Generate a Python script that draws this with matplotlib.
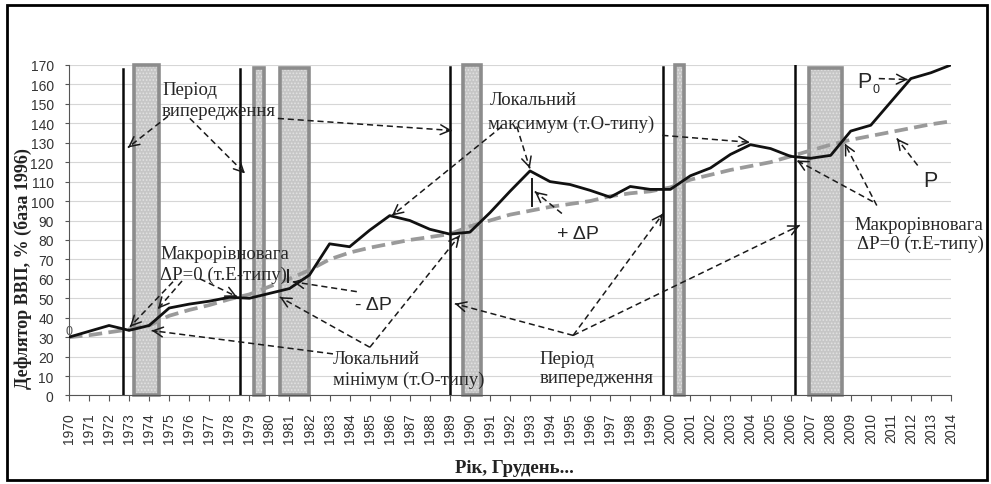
# -*- coding:utf-8 -*-
import matplotlib
matplotlib.use('Agg')
import matplotlib.pyplot as plt
from matplotlib.patches import Rectangle

plt.rcParams['font.family'] = ['Liberation Sans', 'DejaVu Sans']
plt.rcParams['hatch.linewidth'] = 0.8
serif = ['Liberation Serif', 'DejaVu Serif']

# data
years = list(range(1970, 2015))
p0 = [30, 33, 36, 33.5, 36, 45, 47, 48.5, 50.5, 50, 52.5, 55, 62, 78, 76.5,
      85, 92.5, 90, 85.5, 83, 84, 94, 105, 115.5, 110, 108.5, 105.5, 102, 107.5, 106,
      106, 113, 117, 124, 129, 127, 123, 122, 123.5, 136, 139, 151, 163, 166, 170]
p_trend = [30, 31, 32.5, 34, 36, 41, 44, 46.5, 49.5, 52, 56, 60, 64.5, 70, 73.5,
           76, 78, 80, 81.5, 83, 87, 90, 93, 95, 97, 98.5, 100, 102.5, 104, 105,
           107, 111, 113.5, 116, 118, 120, 123, 126, 129, 131.5, 133.5, 135.5, 137.5, 139.5, 141]

band_start = [1973.22, 1979.25, 1980.52, 1989.68, 2000.22, 2006.91]
band_end = [1974.49, 1979.73, 1981.97, 1990.57, 2000.70, 2008.55]
band_top = [170, 168.5, 168.5, 170, 170, 168.5]

vline_x = [1972.71, 1978.53, 1989.0, 1999.65, 2006.21]
vline_top = [168, 168, 169, 169, 170]

# annotation arrows: tail -> head
arrows = [
    (1974.94, 143.6, 1972.94, 127.5),
    (1976.03, 142.5, 1978.78, 114.2),
    (1980.42, 142.5, 1989.10, 136.3),
    (1992.34, 138.4, 1992.99, 116.8),
    (1991.6, 138.4, 1986.11, 92.5),
    (1999.6, 133.8, 2003.97, 130.2),
    (1994.59, 93.6, 1993.24, 104.9),
    (1984.36, 53.4, 1981.17, 58.5),
    (1975.19, 58.5, 1973.04, 35.3),
    (1975.64, 58.9, 1974.44, 44.6),
    (1976.53, 60.0, 1978.38, 50.8),
    (1983.17, 21.4, 1974.12, 33.4),
    (1985.01, 24.8, 1980.52, 50.6),
    (1985.01, 24.8, 1989.5, 82.4),
    (1995.15, 30.9, 1989.25, 47.2),
    (1995.15, 30.9, 1999.64, 93.6),
    (1995.15, 30.9, 2006.46, 87.5),
    (2010.4, 163.0, 2011.85, 162.5),
    (2012.34, 118.3, 2011.3, 132.2),
    (2010.3, 97.7, 2008.7, 129.6),
    (2010.1, 99.7, 2006.31, 120.9),
]
# short solid bars marking the gap
gap_marks = [(1993.09, 97.5, 111.5), (1980.94, 58.3, 64.3)]

fig = plt.figure(figsize=(9.91, 4.85), dpi=100)
ax = fig.add_axes([0.0696, 0.1825, 0.89, 0.6815])

widths = [e - s for s, e in zip(band_start, band_end)]
ax.bar(band_start, band_top, width=widths, align='edge', color='#c6c6c6',
       linewidth=0, zorder=2, clip_on=False)
ax.bar(band_start, band_top, width=widths, align='edge', fill=False, hatch='.....',
       edgecolor='#e2e2e2', linewidth=0, zorder=2, clip_on=False)
ax.bar(band_start, band_top, width=widths, align='edge', fill=False,
       edgecolor='#8c8c8c', linewidth=2.6, zorder=2, clip_on=False)

for x, top in zip(vline_x, vline_top):
    ax.plot([x, x], [0, top], color='#0a0a0a', lw=1.8, zorder=4)

ax.plot(years, p_trend, color='#9a9a9a', lw=2.7, dashes=(3.6, 1.7), zorder=3)
ax.plot(years, p0, color='#111111', lw=2.0, zorder=4, solid_joinstyle='round')

for x0, y0, x1, y1 in arrows:
    ax.plot([x0, x1], [y0, y1], color='#1a1a1a', lw=1.1, ls=(0, (4, 2.5)), zorder=6)
    ax.annotate('', xy=(x1, y1), xytext=(x1 - (x1 - x0) * 0.03, y1 - (y1 - y0) * 0.03),
                arrowprops=dict(arrowstyle='->,head_length=0.7,head_width=0.35',
                                color='#1a1a1a', lw=1.1, shrinkA=0, shrinkB=0), zorder=6)
for x, ya, yb in gap_marks:
    ax.plot([x, x], [ya, yb], color='#1a1a1a', lw=1.4, zorder=6)

tc = '#262626'
ts = 13.5
ax.text(1974.64, 157.5, 'Період', family=serif, fontsize=ts, color=tc, va='center', zorder=7)
ax.text(1974.64, 146.6, 'випередження', family=serif, fontsize=ts, color=tc, va='center', zorder=7)
ax.text(1974.54, 72.9, 'Макрорівновага', family=serif, fontsize=ts, color=tc, va='center', zorder=7)
ax.text(1974.54, 62.1, 'ΔP=0 (т.Е-типу)', family=serif, fontsize=ts, color=tc, va='center', zorder=7)
ax.text(1991.0, 152.3, 'Локальний', family=serif, fontsize=ts, color=tc, va='center', zorder=7)
ax.text(1990.9, 140.0, 'максимум (т.О-типу)', family=serif, fontsize=ts, color=tc, va='center', zorder=7)
ax.text(1983.17, 18.8, 'Локальний', family=serif, fontsize=ts, color=tc, va='center', zorder=7)
ax.text(1983.17, 8.5, 'мінімум (т.О-типу)', family=serif, fontsize=ts, color=tc, va='center', zorder=7)
ax.text(1993.49, 18.8, 'Період', family=serif, fontsize=ts, color=tc, va='center', zorder=7)
ax.text(1993.49, 9.5, 'випередження', family=serif, fontsize=ts, color=tc, va='center', zorder=7)
ax.text(2009.2, 87.9, 'Макрорівновага', family=serif, fontsize=ts, color=tc, va='center', zorder=7, clip_on=False)
ax.text(2009.3, 78.1, 'ΔP=0 (т.Е-типу)', family=serif, fontsize=ts, color=tc, va='center', zorder=7, clip_on=False)

ax.text(1994.34, 83.2, '+ ΔP', fontsize=14, color=tc, va='center', zorder=7)
ax.text(1984.26, 46.6, '- ΔP', fontsize=14, color=tc, va='center', zorder=7)
ax.text(2009.3, 161.6, 'P', fontsize=15.5, color=tc, va='center', zorder=7)
ax.text(2010.1, 157.8, '0', fontsize=9, color=tc, va='center', zorder=7)
ax.text(2012.6, 110.6, 'P', fontsize=15.5, color=tc, va='center', zorder=7)
ax.text(1970, 33, '0', fontsize=9, color='#555555', ha='center', va='center', zorder=7)

ax.set_xlim(1970, 2014)
ax.set_ylim(0, 170)
ax.set_yticks(range(0, 171, 10))
ax.set_xticks(years)
ax.set_xticklabels([str(y) for y in years], rotation=90, fontsize=10, color='#333333')
ax.tick_params(axis='x', length=4, width=0.8, color='#555555', pad=8)
ax.tick_params(axis='y', length=3, width=0.8, color='#555555', labelsize=10,
               labelcolor='#333333', pad=8)
ax.grid(axis='y', color='#d6d6d6', lw=0.8, zorder=0)
ax.set_axisbelow(True)
for s in ['top', 'right']:
    ax.spines[s].set_visible(False)
ax.spines['left'].set_color('#555555')
ax.spines['bottom'].set_color('#555555')

fig.text(23 / 991, 1 - 269 / 485, 'Дефлятор ВВП, % (база 1996)', rotation=90, family=serif,
         fontweight='bold', fontsize=13, color='#222222', ha='center', va='center')
fig.text(514 / 991, 1 - 469 / 485, 'Рік, Грудень...', family=serif, fontweight='bold',
         fontsize=13.5, color='#222222', ha='center', va='center')

fig.patches.append(Rectangle((0.007, 0.008), 0.989, 0.98, transform=fig.transFigure,
                             fill=False, edgecolor='black', lw=2))

fig.savefig('out.png', dpi=100)
